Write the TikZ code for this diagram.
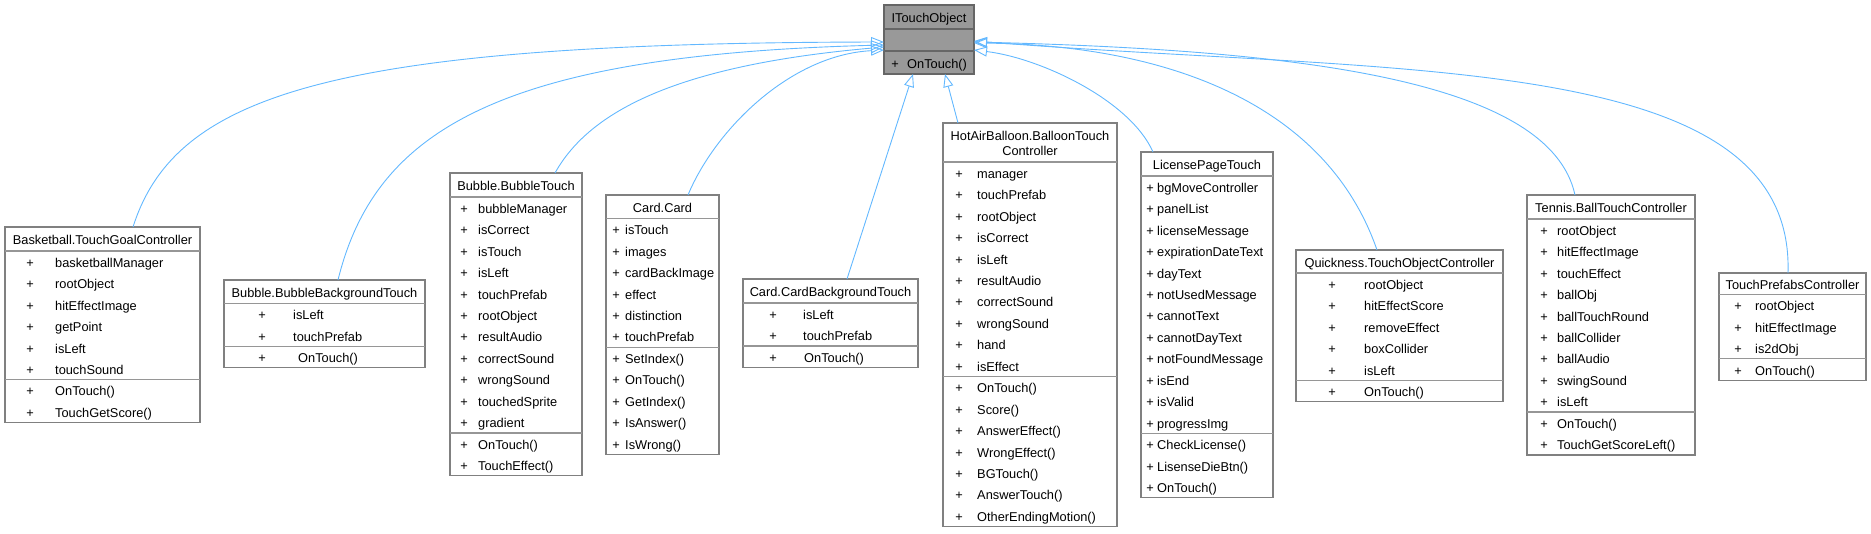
\documentclass[tikz,border=0pt]{standalone}
\usepackage{fontspec}
\setmainfont{Liberation Sans}
\usetikzlibrary{arrows.meta,calc}
\definecolor{edgeblue}{RGB}{99,184,255}
\definecolor{boxgray}{RGB}{128,128,128}
\definecolor{sepgray}{RGB}{150,150,150}
\definecolor{ifill}{RGB}{153,153,153}
\definecolor{iborder}{RGB}{102,102,102}
\tikzset{
  clsbox/.style={draw=boxgray, fill=white, line width=1.2pt, inner sep=0pt, outer sep=0pt, rectangle},
  ibox/.style={draw=iborder, fill=ifill, line width=1.2pt, inner sep=0pt, outer sep=0pt, rectangle},
  sepline/.style={draw=sepgray, line width=1.2pt},
  isep/.style={draw=iborder, line width=1.2pt},
  txt/.style={font=\fontsize{12.8}{15}\selectfont, inner sep=0pt, text=black},
  inherit/.style={draw=edgeblue, line width=0.9pt, {Triangle[open, length=13pt, width=10pt]}-}
}
\def\rowH{21.45}
\def\pOff{20}\def\nOff{40}\def\mOff{40}
\newcommand\umlcls[8]{%
  \foreach \a [count=\i] in {#7}{\xdef\nA{\i}}%
  \foreach \a [count=\i] in {#8}{\xdef\nM{\i}}%
  \foreach \a [count=\i] in {#6}{\xdef\nT{\i}}%
  \pgfmathsetmacro\yA{#3+#5}%
  \pgfmathsetmacro\yM{#3+#5+\nA*\rowH}%
  \pgfmathsetmacro\yB{#3+#5+(\nA+\nM)*\rowH}%
  \node[clsbox, anchor=north west, minimum width={(#4-#2)*1pt}, minimum height={(\yB-#3)*1pt}] (#1) at (#2,#3) {};
  \draw[sepline] (#2,\yA) -- (#4,\yA);
  \draw[sepline] (#2,\yM) -- (#4,\yM);
  \foreach \t [count=\j] in {#6}{%
    \node[txt, anchor=base] (#1-t\j) at ({(#2+#4)/2},{#3+#5/2+5.5+(\j-(\nT+1)/2)*15}) {\t};}
  \foreach \a [count=\i] in {#7}{%
    \node[txt, anchor=base] (#1-ap\i) at ({#2+\pOff},{\yA+(\i-0.5)*\rowH+5.5}) {+};
    \node[txt, anchor=base west] (#1-a\i) at ({#2+\nOff},{\yA+(\i-0.5)*\rowH+5.5}) {\a};}
  \foreach \a [count=\i] in {#8}{%
    \node[txt, anchor=base] (#1-mp\i) at ({#2+\pOff},{\yM+(\i-0.5)*\rowH+5.5}) {+};
    \node[txt, anchor=base west] (#1-m\i) at ({#2+\mOff},{\yM+(\i-0.5)*\rowH+5.5}) {\a};}
}
\begin{document}
\begin{tikzpicture}[x=1pt,y=-1pt]
\useasboundingbox (0,0) rectangle (1871,533);

% interface
\node[ibox, anchor=north west, minimum width=90pt, minimum height=69pt] (ito) at (884,5) {};
\draw[isep] (884,29) -- (974,29);
\draw[isep] (884,51) -- (974,51);
\node[txt, anchor=base] (ito-t) at (929,22.5) {ITouchObject};
\node[txt, anchor=base] (ito-mp) at (895,68) {+};
\node[txt, anchor=base west] (ito-m) at (907,68) {OnTouch()};

\def\pOff{25}\def\nOff{50}\def\mOff{50}
\umlcls{bask}{5}{227}{200}{24}{Basketball.TouchGoalController}{basketballManager,rootObject,hitEffectImage,getPoint,isLeft,touchSound}{OnTouch(),TouchGetScore()}

\def\pOff{38}\def\nOff{69}\def\mOff{74}
\umlcls{bbg}{224}{280}{425}{23.5}{Bubble.BubbleBackgroundTouch}{isLeft,touchPrefab}{OnTouch()}

\def\pOff{14}\def\nOff{28}\def\mOff{28}
\umlcls{bt}{450}{173}{582}{24}{Bubble.BubbleTouch}{bubbleManager,isCorrect,isTouch,isLeft,touchPrefab,rootObject,resultAudio,correctSound,wrongSound,touchedSprite,gradient}{OnTouch(),TouchEffect()}

\def\pOff{10}\def\nOff{19}\def\mOff{19}
\umlcls{card}{606}{195}{719}{23.5}{Card.Card}{isTouch,images,cardBackImage,effect,distinction,touchPrefab}{SetIndex(),OnTouch(),GetIndex(),IsAnswer(),IsWrong()}

\def\pOff{30}\def\nOff{60}\def\mOff{61}
\umlcls{cbg}{743}{279}{918}{24}{Card.CardBackgroundTouch}{isLeft,touchPrefab}{OnTouch()}

\def\pOff{16}\def\nOff{34}\def\mOff{34}
\umlcls{hot}{943}{123}{1117}{39}{HotAirBalloon.BalloonTouch,Controller}{manager,touchPrefab,rootObject,isCorrect,isLeft,resultAudio,correctSound,wrongSound,hand,isEffect}{OnTouch(),Score(),AnswerEffect(),WrongEffect(),BGTouch(),AnswerTouch(),OtherEndingMotion()}

\def\pOff{9}\def\nOff{16}\def\mOff{16}
\umlcls{lic}{1141}{152}{1273}{24}{LicensePageTouch}{bgMoveController,panelList,licenseMessage,expirationDateText,dayText,notUsedMessage,cannotText,cannotDayText,notFoundMessage,isEnd,isValid,progressImg}{CheckLicense(),LisenseDieBtn(),OnTouch()}

\def\pOff{36}\def\nOff{68}\def\mOff{68}
\umlcls{qk}{1296}{250}{1503}{23}{Quickness.TouchObjectController}{rootObject,hitEffectScore,removeEffect,boxCollider,isLeft}{OnTouch()}

\def\pOff{17}\def\nOff{30}\def\mOff{30}
\umlcls{ten}{1527}{195}{1695}{24}{Tennis.BallTouchController}{rootObject,hitEffectImage,touchEffect,ballObj,ballTouchRound,ballCollider,ballAudio,swingSound,isLeft}{OnTouch(),TouchGetScoreLeft()}

\def\pOff{19}\def\nOff{36}\def\mOff{36}
\umlcls{tp}{1719}{273}{1866}{21.5}{TouchPrefabsController}{rootObject,hitEffectImage,is2dObj}{OnTouch()}

% inheritance edges
\draw[inherit] ($(ito.north west)+(0,37)$) .. controls (330,43) and (175,95) .. ($(bask.north west)+(128,0)$);
\draw[inherit] ($(ito.north west)+(0,40)$) .. controls (500,55) and (375,130) .. ($(bbg.north west)+(114,0)$);
\draw[inherit] ($(ito.north west)+(0,42)$) .. controls (680,65) and (590,110) .. ($(bt.north west)+(105,0)$);
\draw[inherit] ($(ito.north west)+(0,45)$) .. controls (790,55) and (715,130) .. ($(card.north west)+(82,0)$);
\draw[inherit] ($(ito.south west)+(29,0)$) -- ($(cbg.north west)+(104,0)$);
\draw[inherit] ($(ito.south west)+(61,0)$) -- ($(hot.north west)+(15,0)$);
\draw[inherit] ($(ito.north east)+(0,45)$) .. controls (1040,58) and (1130,100) .. ($(lic.north west)+(12,0)$);
\draw[inherit] ($(ito.north east)+(0,38)$) .. controls (1160,45) and (1325,100) .. ($(qk.north west)+(81,0)$);
\draw[inherit] ($(ito.north east)+(0,37)$) .. controls (1300,50) and (1550,80) .. ($(ten.north west)+(48,0)$);
\draw[inherit] ($(ito.north east)+(0,36)$) .. controls (1400,75) and (1795,50) .. ($(tp.north west)+(69,0)$);
\end{tikzpicture}
\end{document}
